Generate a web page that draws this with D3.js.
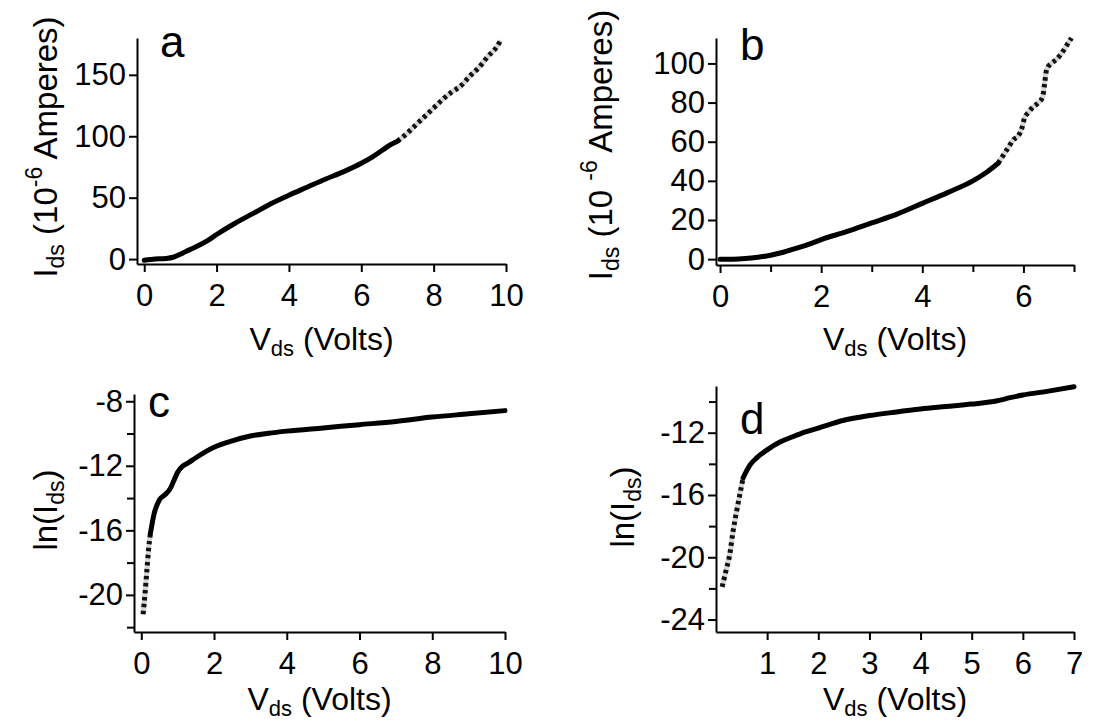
<!DOCTYPE html>
<html>
<head>
<meta charset="utf-8">
<script src="https://cdn.jsdelivr.net/npm/d3@7"></script>
<style>
  body { margin: 0; background: #fff; }
  svg { display: block; font-family: "Liberation Sans", Arial, sans-serif; }
</style>
</head>
<body>
<svg id="chart" width="1109" height="721"></svg>
<script>
// panel a: Ids vs Vds, 0-10 V
const aSolidV = [0, 0.3, 0.6, 0.8, 1.0, 1.25, 1.5, 1.75, 2, 2.5, 3, 3.5, 4, 4.5, 5, 5.5, 6, 6.3, 6.6, 6.8, 7.0];
const aSolidI = [-1, 0, 0.5, 1.5, 4, 7.5, 11, 15, 20, 29, 37, 45, 52, 58.5, 65, 71, 78, 83, 89, 93, 96];
const aDashV = [7.0, 7.25, 7.5, 7.75, 8, 8.25, 8.5, 8.75, 9, 9.25, 9.5, 9.75, 9.85];
const aDashI = [96, 102, 109, 116, 123, 130, 136, 141, 149, 156, 165, 173, 178];

// panel b: Ids vs Vds, 0-7 V
const bSolidV = [0, 0.25, 0.5, 0.75, 1, 1.25, 1.5, 1.75, 2, 2.5, 3, 3.5, 4, 4.5, 5, 5.25, 5.5];
const bSolidI = [0, 0, 0.3, 1, 2, 3.5, 5.5, 7.5, 10, 14, 18.5, 23, 28.5, 34, 40, 44, 49];
const bDashV = [5.5, 5.6, 5.7, 5.8, 5.9, 5.97, 6.02, 6.1, 6.2, 6.3, 6.38, 6.42, 6.46, 6.55, 6.65, 6.75, 6.85, 6.95];
const bDashI = [49, 53, 57, 61, 63, 67, 72, 75, 78, 80, 83, 90, 97, 100, 102, 105, 109, 113];

// panel c: ln(Ids) vs Vds
const cDashV = [0.05, 0.1, 0.15, 0.2, 0.25];
const cDashL = [-21.2, -20.0, -18.6, -17.2, -16.2];
const cSolidV = [0.25, 0.35, 0.5, 0.65, 0.8, 0.9, 1.0, 1.15, 1.3, 1.5, 1.75, 2, 2.5, 3, 3.5, 4, 5, 6, 7, 8, 9, 10];
const cSolidL = [-16.2, -15.0, -14.1, -13.8, -13.4, -12.9, -12.4, -12.0, -11.8, -11.5, -11.15, -10.85, -10.45, -10.15, -9.98, -9.85, -9.65, -9.45, -9.25, -8.98, -8.78, -8.58];

// panel d: ln(Ids) vs Vds
const dDashV = [0.12, 0.2, 0.27, 0.33, 0.4, 0.47, 0.53];
const dDashL = [-21.9, -20.8, -19.8, -18.4, -17.1, -15.9, -14.9];
const dSolidV = [0.53, 0.66, 0.8, 1.0, 1.25, 1.5, 1.75, 2, 2.5, 3, 3.5, 4, 4.5, 5, 5.5, 5.75, 6, 6.5, 7];
const dSolidL = [-14.9, -14.1, -13.6, -13.1, -12.6, -12.26, -11.95, -11.7, -11.2, -10.9, -10.68, -10.48, -10.32, -10.16, -9.95, -9.75, -9.58, -9.33, -9.05];

// ticks
const aXTicks = [0, 2, 4, 6, 8, 10], aYTicks = [0, 50, 100, 150];
const bXTicks = [0, 2, 4, 6], bXMinor = [1, 3, 5, 7], bYTicks = [0, 20, 40, 60, 80, 100];
const cXTicks = [0, 2, 4, 6, 8, 10], cYTicks = [-8, -12, -16, -20], cYMinor = [-10, -14, -18, -22];
const dXTicks = [1, 2, 3, 4, 5, 6, 7], dYTicks = [-12, -16, -20, -24], dYMinor = [-10, -14, -18, -22];

const svg = d3.select("#chart");

const zip = (xs, ys) => xs.map((v, i) => [v, ys[i]]);

function panel(p) {
  const x = d3.scaleLinear().domain(p.xDom).range(p.xRange);
  const y = d3.scaleLinear().domain(p.yDom).range(p.yRange);
  const g = svg.append("g");

  const line = d3.line().x(d => x(d[0])).y(d => y(d[1])).curve(d3.curveMonotoneX);

  // dashed segment: light grey underneath, black dashes on top
  g.append("path").attr("d", line(p.dash))
    .attr("fill", "none").attr("stroke", "#d6d6d6").attr("stroke-width", 5);
  g.append("path").attr("d", line(p.dash))
    .attr("fill", "none").attr("stroke", "#111").attr("stroke-width", 5)
    .attr("stroke-dasharray", "3.5,3.5");
  g.append("path").attr("d", line(p.solid))
    .attr("fill", "none").attr("stroke", "#000").attr("stroke-width", 5)
    .attr("stroke-linecap", "round").attr("stroke-linejoin", "round");

  const yAxis = d3.axisLeft(y).tickValues(p.yTicks).tickSize(8).tickSizeOuter(0)
    .tickPadding(3).tickFormat(d => String(d));
  const xAxis = d3.axisBottom(x).tickValues(p.xTicks).tickSize(8).tickSizeOuter(0)
    .tickPadding(12).tickFormat(d => String(d));

  g.append("g").attr("transform", `translate(${p.xRange[0]},0)`).call(yAxis);
  g.append("g").attr("transform", `translate(0,${p.yRange[0]})`).call(xAxis);
  if (p.yMinor) g.append("g").attr("transform", `translate(${p.xRange[0]},0)`)
    .call(d3.axisLeft(y).tickValues(p.yMinor).tickSize(7).tickFormat("")).select(".domain").remove();
  if (p.xMinor) g.append("g").attr("transform", `translate(0,${p.yRange[0]})`)
    .call(d3.axisBottom(x).tickValues(p.xMinor).tickSize(7).tickFormat("")).select(".domain").remove();

  g.selectAll(".domain, .tick line").attr("stroke", "#000").attr("stroke-width", 2);
  g.selectAll(".tick text").attr("font-size", 31).attr("fill", "#000")
    .attr("font-family", "Liberation Sans, Arial, sans-serif");

  // panel letter
  g.append("text").attr("x", p.xRange[0] + p.letterDx).attr("y", p.yRange[1] + p.letterDy)
    .attr("font-size", 44).text(p.letter);

  // x label
  const cx = (p.xRange[0] + p.xRange[1]) / 2;
  const xl = g.append("text").attr("x", cx).attr("y", p.yRange[0] + p.xLabelDy)
    .attr("text-anchor", "middle").attr("font-size", 32);
  xl.append("tspan").text("V");
  xl.append("tspan").attr("font-size", 22).attr("dy", 6).text("ds");
  xl.append("tspan").attr("dy", -6).text(" (Volts)");

  // y label
  const yl = g.append("text")
    .attr("transform", `translate(${p.yLabelX},${p.yLabelY}) rotate(-90)`)
    .attr("text-anchor", "middle").attr("font-size", 33);
  p.yLabel(yl);
}

const currentLabel = gap => t => {
  t.append("tspan").text("I");
  t.append("tspan").attr("font-size", 23).attr("dy", 7).text("ds");
  t.append("tspan").attr("dy", -7).text(" (10" + gap);
  t.append("tspan").attr("font-size", 23).attr("dy", -15).text("-6");
  t.append("tspan").attr("dy", 15).text(" Amperes)");
};
const lnLabel = t => {
  t.append("tspan").text("ln(I");
  t.append("tspan").attr("font-size", 23).attr("dy", 7).text("ds");
  t.append("tspan").attr("dy", -7).text(")");
};

panel({
  letter: "a", letterDx: 23, letterDy: 19, xLabelDy: 86,
  xDom: [-0.2, 10], xRange: [137, 506], yDom: [-4, 180], yRange: [264, 38],
  xTicks: aXTicks, yTicks: aYTicks,
  solid: zip(aSolidV, aSolidI), dash: zip(aDashV, aDashI),
  yLabelX: 57, yLabelY: 147, yLabel: currentLabel("")
});
panel({
  letter: "b", letterDx: 24, letterDy: 22, xLabelDy: 85,
  xDom: [-0.08, 7], xRange: [716, 1074], yDom: [-3, 113], yRange: [265, 38],
  xTicks: bXTicks, xMinor: bXMinor, yTicks: bYTicks,
  solid: zip(bSolidV, bSolidI), dash: zip(bDashV, bDashI),
  yLabelX: 612, yLabelY: 145, yLabel: currentLabel(" ")
});
panel({
  letter: "c", letterDx: 14, letterDy: 23, xLabelDy: 78,
  xDom: [-0.2, 10], xRange: [134, 505], yDom: [-22.3, -7.55], yRange: [632, 394],
  xTicks: cXTicks, yTicks: cYTicks, yMinor: cYMinor,
  solid: zip(cSolidV, cSolidL), dash: zip(cDashV, cDashL),
  yLabelX: 57, yLabelY: 510, yLabel: lnLabel
});
panel({
  letter: "d", letterDx: 24, letterDy: 48, xLabelDy: 78,
  xDom: [0, 7], xRange: [716, 1074], yDom: [-24.8, -9.0], yRange: [632, 386],
  xTicks: dXTicks, yTicks: dYTicks, yMinor: dYMinor,
  solid: zip(dSolidV, dSolidL), dash: zip(dDashV, dDashL),
  yLabelX: 634, yLabelY: 507, yLabel: lnLabel
});
</script>
</body>
</html>
